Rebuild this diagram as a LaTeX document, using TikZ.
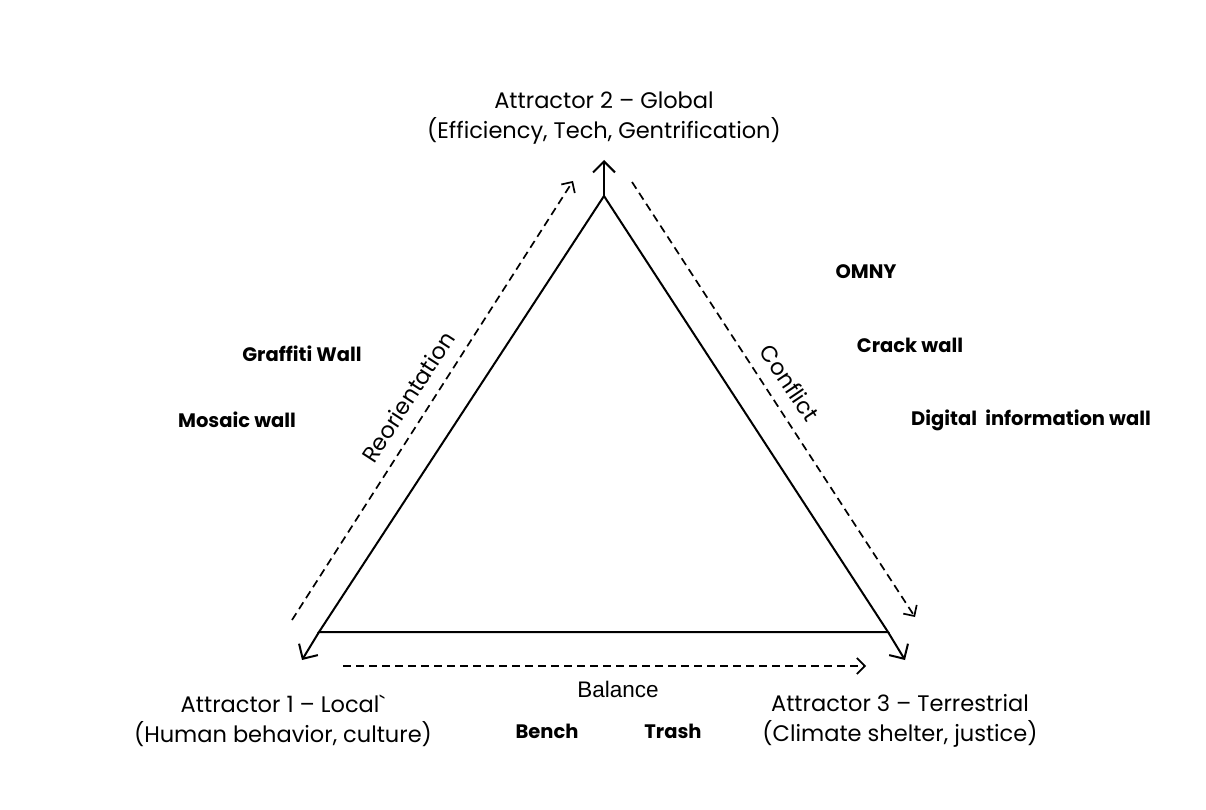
\documentclass[tikz,border=0pt]{standalone}
\usepackage{fontspec}
\setmainfont{Poppins}
\newfontfamily\balfont{Liberation Sans}
\usetikzlibrary{arrows.meta}

\begin{document}
\begin{tikzpicture}[x=1pt, y=-1pt,
  side/.style={line width=2pt},
  pointer/.style={line width=2pt, -{Straight Barb[length=11pt, width=22pt, line width=2pt]}},
  flow/.style={line width=1.7pt, dash pattern=on 8pt off 5pt, -{Straight Barb[length=8pt, width=16pt, line width=1.7pt]}},
  attractor/.style={align=center, font=\fontsize{22.5}{30}\selectfont},
  item/.style={font=\fontsize{19.5}{22}\selectfont\bfseries},
  tag/.style={font=\fontsize{22.5}{24}\selectfont}]
\useasboundingbox (0,0) rectangle (1206,810);

% triangle
\coordinate (top) at (604,196);
\coordinate (left) at (319,632);
\coordinate (right) at (888,632);
\draw [side] (left) -- (top) -- (right) -- cycle;

% outward pointers
\coordinate (topout) at (604,160);
\coordinate (leftout) at (302,660);
\coordinate (rightout) at (905,660);
\draw [pointer] (top) -- (topout);
\draw [pointer] (left) -- (leftout);
\draw [pointer] (right) -- (rightout);

% dashed flows
\coordinate (reo1) at (292,620);
\coordinate (reo2) at (573,181);
\coordinate (con1) at (632,182);
\coordinate (con2) at (915,617);
\coordinate (bal1) at (343,666);
\coordinate (bal2) at (866,666);
\draw [flow] (reo1) -- (reo2);
\draw [flow] (con1) -- (con2);
\draw [flow] (bal1) -- (bal2);
\node[tag, rotate=57] (reo) at (408,397) {Reorientation};
\node[tag, rotate=-56] (con) at (790,383) {Conflict};
\node[tag, font=\fontsize{22.5}{24}\selectfont\balfont] (bal) at (618,689) {Balance};

% attractors
\node[attractor] (att2) at (604,118) {Attractor 2 -- Global\\(Efficiency, Tech, Gentrification)};
\node[attractor] (att1) at (283,721) {Attractor 1 -- Local\textasciigrave\\(Human behavior, culture)};
\node[attractor] (att3) at (900,721) {Attractor 3 -- Terrestrial\\(Climate shelter, justice)};

% walls and objects
\node[item] (graffiti) at (302,354) {Graffiti Wall};
\node[item] (mosaic) at (237,420) {Mosaic wall};
\node[item] (omny) at (866,272) {OMNY};
\node[item] (crack) at (910,345) {Crack wall};
\node[item] (digital) at (1031,420) {Digital\ \ information wall};
\node[item] (bench) at (547,731) {Bench};
\node[item] (trash) at (673,731) {Trash};
\end{tikzpicture}
\end{document}
